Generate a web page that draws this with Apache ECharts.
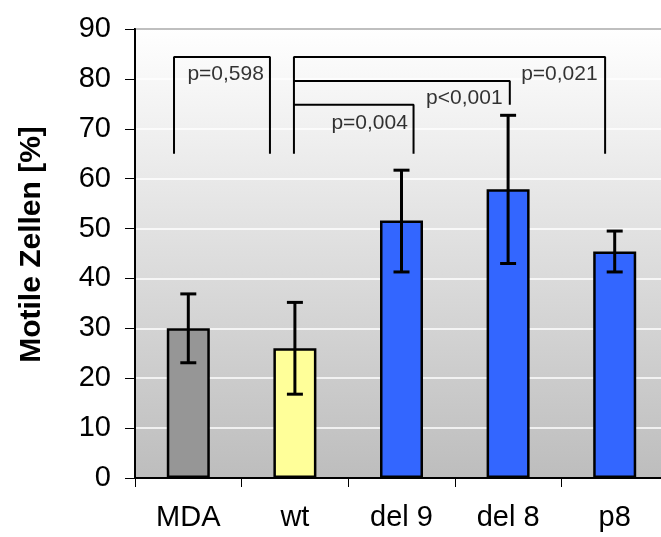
<!DOCTYPE html>
<html>
<head>
<meta charset="utf-8">
<script src="https://cdn.jsdelivr.net/npm/echarts@6/dist/echarts.min.js"></script>
<style>
  html, body { margin: 0; padding: 0; background: #fff; }
  #chart { width: 661px; height: 537px; }
</style>
</head>
<body>
<div id="chart"></div>
<script>
// data
const categories = ['MDA', 'wt', 'del 9', 'del 8', 'p8']
const means = [30.0, 26.0, 51.6, 57.9, 45.4]
const errLow = [23.1, 16.8, 41.3, 43.0, 41.3]
const errHigh = [36.9, 35.2, 61.7, 72.7, 49.5]
const barColors = ['#969696', '#ffff99', '#3366ff', '#3366ff', '#3366ff']
const yTicks = { min: 0, max: 90, step: 10 }

// significance brackets, x in category units (0 = MDA centre)
const brackets = [
  [[-0.134, 65], [-0.134, 84.4], [0.766, 84.4], [0.766, 65]],
  [[0.991, 65], [0.991, 84.4], [3.91, 84.4], [3.91, 65]],
  [[0.991, 79.6], [3.016, 79.6], [3.016, 74.8]],
  [[0.991, 74.8], [2.113, 74.8], [2.113, 65]],
]
const pLabels = ['p=0,598', 'p=0,004', 'p<0,001', 'p=0,021']
const pLabelPos = [[0.709, 81.0], [2.06, 71.2], [2.948, 76.1], [3.84, 80.9]]

const FONT = 'Liberation Sans, Arial, sans-serif'
const chart = echarts.init(document.getElementById('chart'), null, { renderer: 'canvas' })

const bracketSeries = brackets.map(pts => ({
  type: 'line', xAxisIndex: 1, data: pts, symbol: 'none', silent: true,
  lineStyle: { color: '#000', width: 2 }, z: 5,
}))

chart.setOption({
  animation: false,
  grid: {
    left: 135, top: 29, right: -7, bottom: 59,
    outerBoundsMode: 'none',
    show: true, borderWidth: 2, borderColor: '#000',
    backgroundColor: new echarts.graphic.LinearGradient(0, 0, 0, 1, [
      { offset: 0, color: '#ffffff' }, { offset: 1, color: '#bdbdbd' }]),
  },
  xAxis: [{
    type: 'category', data: categories,
    axisLine: { lineStyle: { color: '#000', width: 2 } },
    axisTick: { show: true, length: 9, lineStyle: { color: '#000', width: 1 } },
    axisLabel: { color: '#000', fontFamily: FONT, fontSize: 29, margin: 25 },
    splitLine: { show: false },
  }, {
    type: 'value', min: -0.5, max: 4.5, show: false,
  }],
  yAxis: {
    type: 'value', min: yTicks.min, max: yTicks.max, interval: yTicks.step,
    name: 'Motile Zellen [%]', nameLocation: 'middle', nameGap: 88,
    nameTextStyle: { color: '#000', fontFamily: FONT, fontSize: 30, fontWeight: 'bold', padding: [0, 0, 0, 18] },
    axisLine: { show: true, onZero: false, lineStyle: { color: '#000', width: 2 } },
    axisTick: { show: true, length: 10, lineStyle: { color: '#000', width: 1 } },
    axisLabel: { color: '#000', fontFamily: FONT, fontSize: 29, margin: 24 },
    splitLine: { show: true, lineStyle: { color: '#ffffff', width: 1.5 } },
  },
  series: [
    {
      type: 'bar', data: means.map((v, i) => ({ value: v, itemStyle: { color: barColors[i] } })),
      barWidth: 43,
      itemStyle: { borderColor: '#000', borderWidth: 2.5 },
      z: 2,
    },
    {
      type: 'custom', z: 4,
      data: categories.map((c, i) => [i, errLow[i], errHigh[i]]),
      renderItem(params, api) {
        const lo = api.coord([api.value(0), api.value(1)])
        const hi = api.coord([api.value(0), api.value(2)])
        const w = 8
        const st = { stroke: '#000', lineWidth: 3 }
        return {
          type: 'group', children: [
            { type: 'line', shape: { x1: hi[0], y1: hi[1], x2: lo[0], y2: lo[1] }, style: st },
            { type: 'line', shape: { x1: hi[0] - w, y1: hi[1], x2: hi[0] + w, y2: hi[1] }, style: st },
            { type: 'line', shape: { x1: lo[0] - w, y1: lo[1], x2: lo[0] + w, y2: lo[1] }, style: st },
          ]
        }
      },
    },
    ...bracketSeries,
    {
      type: 'scatter', xAxisIndex: 1, symbolSize: 0, silent: true, z: 6,
      data: pLabelPos.map((p, i) => ({ value: p, name: pLabels[i] })),
      label: {
        show: true, position: 'left', distance: 0,
        formatter: p => p.name, color: '#000', fontFamily: FONT, fontSize: 21,
      },
    },
  ],
})
</script>
</body>
</html>
